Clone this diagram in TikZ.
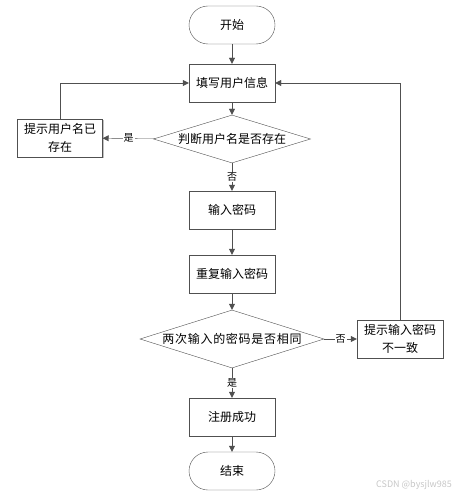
\documentclass[tikz,border=0pt]{standalone}
\usepackage{fontspec}
\setmainfont{Noto Sans CJK SC}
\usetikzlibrary{shapes.geometric,shadows,arrows.meta}
\definecolor{linec}{HTML}{505050}
\begin{document}
\begin{tikzpicture}[x=1pt,y=-1pt,
    font=\fontsize{12}{18}\selectfont,
    term/.style={draw=linec, fill=white, rounded corners=19pt, minimum width=86pt, minimum height=38pt},
    box/.style={draw=linec, fill=white, minimum width=86pt, minimum height=38pt, inner sep=1pt, align=center,
        drop shadow={shadow xshift=1.3pt, shadow yshift=-1.3pt, fill=black!30, opacity=0.8}},
    decision/.style={draw=linec, fill=white, diamond, aspect=3.2, inner sep=0pt},
    flow/.style={draw=linec, -{Triangle[length=6pt,width=6pt]}},
    tag/.style={fill=white, inner sep=1pt, font=\fontsize{10}{12}\selectfont}]
    \useasboundingbox (0,0) rectangle (458,494);

    % Steps
    \node[term] (start) at (232,25) {开始};
    \node[box] (fill) at (232,83) {填写用户信息};
    \node[decision, minimum width=157pt, minimum height=48pt] (chkname) at (232,139) {判断用户名是否存在};
    \node[box, minimum width=85pt] (nameexist) at (60,138) {提示用户名已\\存在};
    \node[box] (pwd) at (232,210) {输入密码};
    \node[box] (repwd) at (232,274) {重复输入密码};
    \node[decision, minimum width=184pt, minimum height=58pt] (chkpwd) at (232,339) {\addfontfeature{LetterSpace=6}两次输入的密码是否相同};
    \node[box] (mismatch) at (400,339) {提示输入密码\\不一致};
    \node[box] (done) at (232,417) {注册成功};
    \node[term] (end) at (232,471) {结束};

    % Connectors
    \draw[flow] (start) -- (fill);
    \draw[flow] (fill) -- (chkname);
    \draw[flow] (chkname) -- node[tag] {是} (nameexist);
    \draw[flow] (nameexist.north) |- (fill.west);
    \draw[flow] (chkname) -- node[tag] {否} (pwd);
    \draw[flow] (pwd) -- (repwd);
    \draw[flow] (repwd) -- (chkpwd);
    \draw[flow] (chkpwd) -- node[tag] {否} (mismatch);
    \draw[flow] (mismatch.north) |- (fill.east);
    \draw[flow] (chkpwd) -- node[tag] {是} (done);
    \draw[flow] (done) -- (end);

    \node[text=black!22, font=\fontsize{9}{10}\selectfont] (mark) at (414,485) {CSDN @bysjlw985};
\end{tikzpicture}
\end{document}
